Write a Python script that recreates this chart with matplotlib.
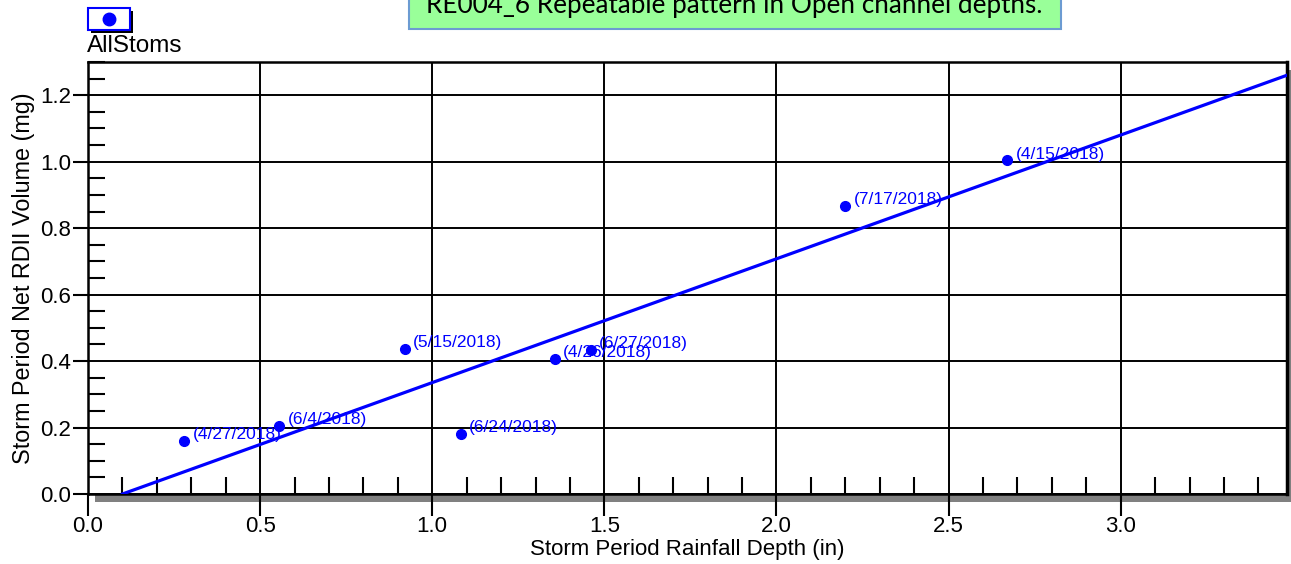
import matplotlib
matplotlib.use("Agg")
import matplotlib.pyplot as plt
from matplotlib.patches import Rectangle
from matplotlib.ticker import MultipleLocator
import numpy as np

# Data
storm_dates = ["(4/27/2018)", "(6/4/2018)", "(5/15/2018)", "(6/24/2018)",
               "(4/26/2018)", "(6/27/2018)", "(7/17/2018)", "(4/15/2018)"]
rain_depth = [0.28, 0.555, 0.92, 1.083, 1.356, 1.46, 2.20, 2.67]
rdii_volume = [0.16, 0.205, 0.436, 0.18, 0.406, 0.433, 0.866, 1.004]
fit_x = [0.1, 3.5]
fit_slope = 0.3725
fit_intercept_x = 0.1

x_ticks = [0.0, 0.5, 1.0, 1.5, 2.0, 2.5, 3.0]
y_ticks = [0.0, 0.2, 0.4, 0.6, 0.8, 1.0, 1.2]

title_text = "RE004_6 Repeatable pattern in Open channel depths."
legend_label = "AllStoms"
x_label = "Storm Period Rainfall Depth (in)"
y_label = "Storm Period Net RDII Volume (mg)"

W, H = 1291, 564
fig = plt.figure(figsize=(W / 100, H / 100), dpi=100)
plt.rcParams['font.family'] = ['Liberation Sans', 'DejaVu Sans']

def fx(px):
    return px / W

def fy(py):
    return 1 - py / H

ax_l, ax_r, ax_t, ax_b = 88, 1287, 62, 494
ax = fig.add_axes([fx(ax_l), fy(ax_b), fx(ax_r - ax_l), (ax_b - ax_t) / H])

# shadow behind axes
shadow = Rectangle((fx(ax_l + 7), fy(ax_b + 8)), fx(ax_r - ax_l + 4), (ax_b - ax_t) / H,
                   transform=fig.transFigure, facecolor="#808080", edgecolor="none", zorder=-5)
fig.patches.append(shadow)

ax.set_xlim(0, 3.483)
ax.set_ylim(0, 1.3)
ax.set_xticks(x_ticks)
ax.set_yticks(y_ticks)
ax.set_xticklabels([f"{v:.1f}" for v in x_ticks])
ax.set_yticklabels([f"{v:.1f}" for v in y_ticks])
ax.xaxis.set_minor_locator(MultipleLocator(0.1))
ax.yaxis.set_minor_locator(MultipleLocator(0.05))
ax.tick_params(axis="both", which="major", direction="out", length=11, width=1.5,
               labelsize=16, color="black", pad=1)
ax.tick_params(axis="x", which="major", length=16, pad=0)
ax.tick_params(axis="both", which="minor", direction="in", length=12, width=1.5)
ax.grid(True, which="major", color="black", linewidth=1.4)
ax.set_axisbelow(True)
for s in ax.spines.values():
    s.set_linewidth(1.8)
    s.set_color("black")
ax.spines["right"].set_linewidth(2.5)

# fit line
fx_arr = np.array(fit_x)
fy_arr = fit_slope * (fx_arr - fit_intercept_x)
ax.plot(fx_arr, fy_arr, color="#0000FF", linewidth=2.3, zorder=3, clip_on=True)

ax.plot(rain_depth, rdii_volume, "o", color="#0000FF", markersize=7, zorder=4, clip_on=False)
for xv, yv, lab in zip(rain_depth, rdii_volume, storm_dates):
    ax.annotate(lab, (xv, yv), xytext=(6.0, 4.5), textcoords="offset points",
                ha="left", va="center", fontsize=12.5, color="#0000FF", zorder=5)

ax.set_xlabel(x_label, fontsize=16, labelpad=1)
ax.set_ylabel(y_label, fontsize=16.8, labelpad=4)

# Title box
tb = Rectangle((fx(409), fy(29)), fx(1061 - 409), 40 / H, transform=fig.transFigure,
               facecolor="#99FF99", edgecolor="#6C9BD2", linewidth=1.5, zorder=10)
fig.patches.append(tb)
fig.text(fx(734), fy(13), title_text, ha="center", va="baseline", fontsize=18.8,
         family=["Lato", "DejaVu Sans"], color="black", zorder=11)

# Legend
lg_sh = Rectangle((fx(91), fy(33)), fx(42), 22 / H, transform=fig.transFigure,
                  facecolor="black", edgecolor="none", zorder=10)
fig.patches.append(lg_sh)
lg = Rectangle((fx(88), fy(30)), fx(42), 22 / H, transform=fig.transFigure,
               facecolor="white", edgecolor="#0000FF", linewidth=1.5, zorder=11)
fig.patches.append(lg)
fig.lines.append(plt.Line2D([fx(109)], [fy(19)], marker="o", color="#0000FF",
                            markersize=9, transform=fig.transFigure, zorder=12))
fig.text(fx(87), fy(46), legend_label, ha="left", va="center", fontsize=17.5, color="black")

fig.savefig("out.png", dpi=100)
